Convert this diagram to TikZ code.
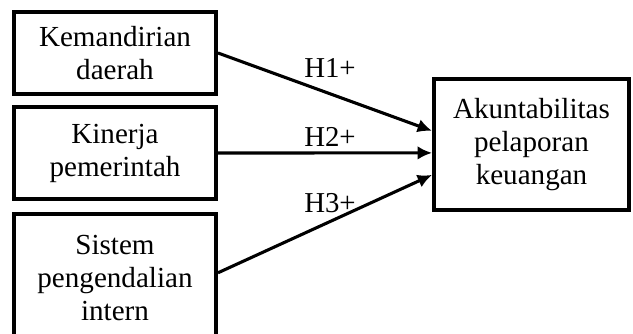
\documentclass[tikz,border=0pt]{standalone}
\usepackage{fontspec}
\setmainfont{Liberation Serif}
\usepackage{tikz}
\usetikzlibrary{shapes,arrows,arrows.meta}

\begin{document}
\begin{tikzpicture}[
		varbox/.style={draw, line width=2.8pt, align=center, inner sep=0pt, font=\fontsize{20.7}{23.5}\selectfont},
		hyp/.style={font=\fontsize{20.5}{23}\selectfont},
		link/.style={line width=2.2pt, -{Latex[length=0.36cm,width=0.34cm]}}
	]
		\clip (0,0) rectangle (15.825,-8.35);
		\node[varbox, minimum width=5.05cm, minimum height=2.05cm] (kd) at (2.875,-1.325) {Kemandirian\\daerah};
		\node[varbox, minimum width=5.05cm, minimum height=2.3cm] (kp) at (2.875,-3.825) {Kinerja\\pemerintah};
		\node[varbox, minimum width=5.05cm, minimum height=3.2cm] (spi) at (2.875,-6.95) {Sistem\\pengendalian\\intern};
		\node[varbox, minimum width=4.875cm, minimum height=3.275cm] (apk) at (13.2875,-3.6125) {Akuntabilitas\\pelaporan\\keuangan};
		\draw[link] (kd.east) -- ([yshift=0.34cm]apk.west);
		\draw[link] (kp.east) -- ([yshift=-0.21cm]apk.west);
		\draw[link] ([yshift=0.13cm]spi.east) -- ([yshift=-0.76cm]apk.west);
		\node[hyp] (h1) at (8.25,-1.7) {H1+};
		\node[hyp] (h2) at (8.25,-3.425) {H2+};
		\node[hyp] (h3) at (8.25,-5.075) {H3+};
\end{tikzpicture}
\end{document}
